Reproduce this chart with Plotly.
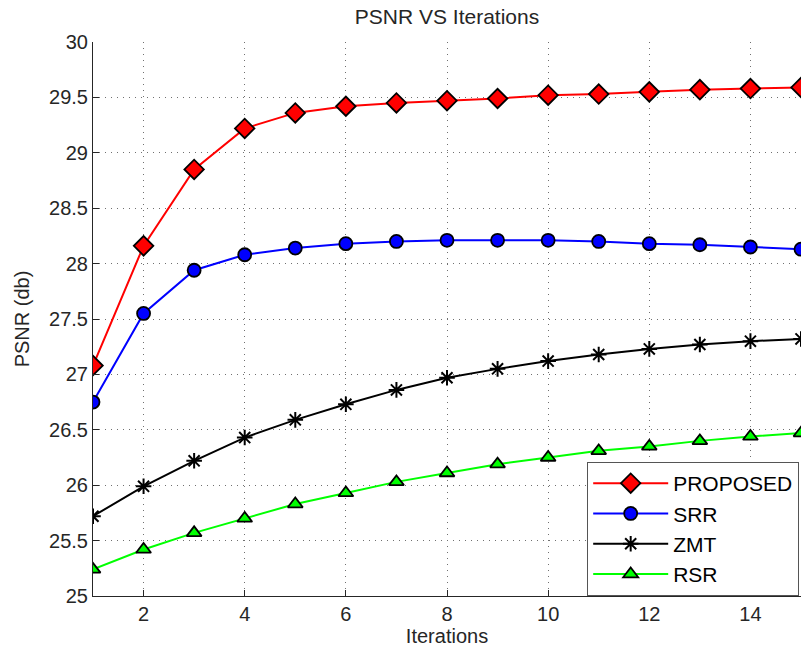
import plotly.graph_objects as go

iterations = list(range(1, 16))
proposed = [27.08, 28.16, 28.85, 29.22, 29.36, 29.42, 29.45, 29.47, 29.49, 29.52, 29.53, 29.55, 29.57, 29.58, 29.59]
srr = [26.75, 27.55, 27.94, 28.08, 28.14, 28.18, 28.20, 28.21, 28.21, 28.21, 28.20, 28.18, 28.17, 28.15, 28.13]
zmt = [25.72, 25.99, 26.22, 26.43, 26.59, 26.73, 26.86, 26.97, 27.05, 27.12, 27.18, 27.23, 27.27, 27.30, 27.32]
rsr = [25.24, 25.42, 25.57, 25.70, 25.83, 25.93, 26.03, 26.11, 26.19, 26.25, 26.31, 26.35, 26.40, 26.44, 26.47]

x_ticks = [2, 4, 6, 8, 10, 12, 14]
y_ticks = [25, 25.5, 26, 26.5, 27, 27.5, 28, 28.5, 29, 29.5, 30]
y_tick_text = ["25", "25.5", "26", "26.5", "27", "27.5", "28", "28.5", "29", "29.5", "30"]

FONT = "Liberation Sans, Arial, sans-serif"

series = [
    ("PROPOSED", proposed, "#ff0000", "diamond", 15),
    ("SRR", srr, "#0000ff", "circle", 13),
    ("ZMT", zmt, "#000000", "asterisk-open", 13),
    ("RSR", rsr, "#00ff00", "triangle-up", 13),
]

fig = go.Figure()
for name, vals, color, sym, size in series:
    if sym == "asterisk-open":
        marker = dict(symbol=sym, size=size, color="black", line=dict(color="black", width=2))
    else:
        marker = dict(symbol=sym, size=size, color=color, line=dict(color="black", width=1.8))
    fig.add_trace(go.Scatter(
        x=iterations, y=vals, mode="lines+markers", name=name,
        line=dict(color=color, width=2), marker=marker,
    ))

fig.update_layout(
    width=801, height=654,
    margin=dict(l=93, r=0, t=42, b=58),
    paper_bgcolor="white", plot_bgcolor="white",
    font=dict(family=FONT, size=20, color="#262626"),
    title=dict(text="PSNR VS Iterations", x=0.5, xref="paper", xanchor="center",
               y=1 - 17 / 654, yref="container", yanchor="middle",
               font=dict(family=FONT, size=21, color="#262626")),
    showlegend=True,
    legend=dict(x=0.698, y=0, xanchor="left", yanchor="bottom", bgcolor="white",
                bordercolor="#555555", borderwidth=1,
                font=dict(family=FONT, size=21, color="#000000"),
                itemwidth=75, tracegroupgap=0),
)
fig.update_xaxes(
    range=[1, 15], tickvals=x_ticks, ticktext=[str(t) for t in x_ticks],
    showline=True, linecolor="#262626", linewidth=1, mirror=False,
    ticks="inside", ticklen=6, tickcolor="#262626",
    showgrid=True, gridcolor="#707070", griddash="1px,5px", gridwidth=1,
    zeroline=False, automargin=False,
    title=dict(text="Iterations", standoff=4, font=dict(family=FONT, size=20)),
)
fig.update_yaxes(
    range=[25, 30], tickvals=y_ticks, ticktext=y_tick_text,
    showline=True, linecolor="#262626", linewidth=1, mirror=False,
    ticks="inside", ticklen=6, tickcolor="#262626",
    showgrid=True, gridcolor="#707070", griddash="1px,5px", gridwidth=1,
    zeroline=False, automargin=False,
    title=dict(text="PSNR (db)", standoff=14, font=dict(family=FONT, size=20)),
)

fig.write_html("out.html", config={"displayModeBar": False},
               post_script="document.body.style.margin='0';")
